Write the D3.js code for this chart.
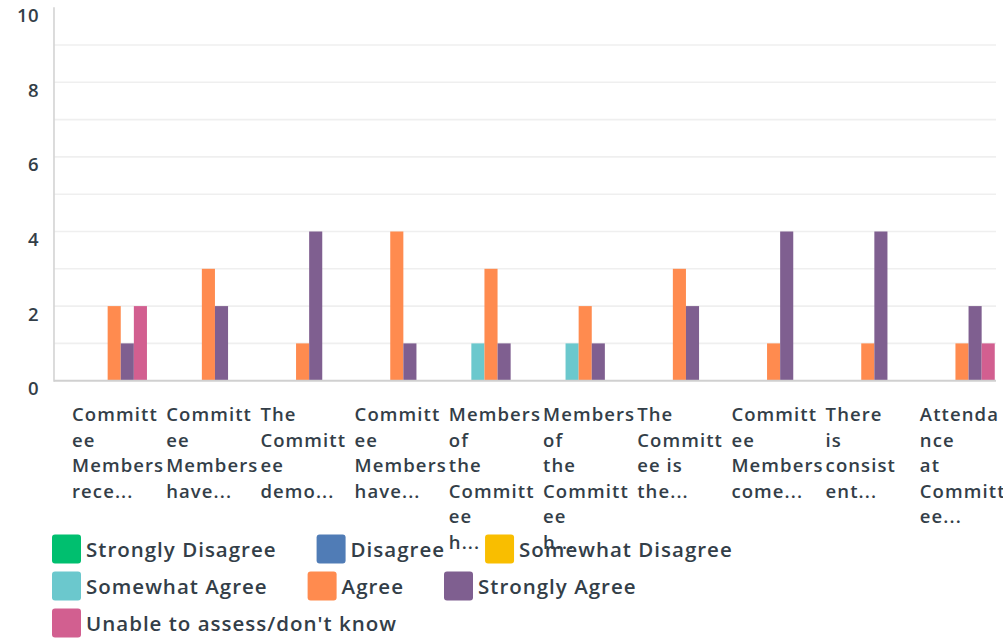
<!DOCTYPE html>
<html>
<head>
<meta charset="utf-8">
<script src="https://cdn.jsdelivr.net/npm/d3@7"></script>
<style>
  html, body { margin: 0; padding: 0; background: #fff; }
  svg { display: block; font-family: "Open Sans", sans-serif; }
</style>
</head>
<body>
<svg id="chart" width="1003" height="638"></svg>
<script>
// ---- data ----
const categories = [
  ["Committ", "ee", "Members", "rece..."],
  ["Committ", "ee", "Members", "have..."],
  ["The", "Committ", "ee", "demo..."],
  ["Committ", "ee", "Members", "have..."],
  ["Members", "of", "the", "Committ", "ee", "h..."],
  ["Members", "of", "the", "Committ", "ee", "h..."],
  ["The", "Committ", "ee is", "the..."],
  ["Committ", "ee", "Members", "come..."],
  ["There", "is", "consist", "ent..."],
  ["Attenda", "nce", "at", "Committ", "ee..."]
];
const seriesNames = ["Strongly Disagree", "Disagree", "Somewhat Disagree", "Somewhat Agree", "Agree", "Strongly Agree", "Unable to assess/don't know"];
const seriesColors = ["#00bf6f", "#507cb6", "#f9be00", "#6bc8cd", "#ff8b4f", "#7f5f90", "#d25f90"];
const stronglyDisagree = [0, 0, 0, 0, 0, 0, 0, 0, 0, 0];
const disagree         = [0, 0, 0, 0, 0, 0, 0, 0, 0, 0];
const somewhatDisagree = [0, 0, 0, 0, 0, 0, 0, 0, 0, 0];
const somewhatAgree    = [0, 0, 0, 0, 1, 1, 0, 0, 0, 0];
const agree            = [2, 3, 1, 4, 3, 2, 3, 1, 1, 1];
const stronglyAgree    = [1, 2, 4, 1, 1, 1, 2, 4, 4, 2];
const unable           = [2, 0, 0, 0, 0, 0, 0, 0, 0, 1];
const yTicks = [0, 2, 4, 6, 8, 10];
const yGrid = [1, 2, 3, 4, 5, 6, 7, 8, 9];

const seriesValues = [stronglyDisagree, disagree, somewhatDisagree, somewhatAgree, agree, stronglyAgree, unable];

// ---- layout ----
const svg = d3.select("#chart");
const plotLeft = 54, plotRight = 996, plotTop = 7.7, plotBottom = 380.7;
const textColor = "#333e48";

const x0 = d3.scaleBand().domain(d3.range(categories.length)).range([plotLeft, plotRight]).paddingInner(0).paddingOuter(0);
const x1 = d3.scaleBand().domain(d3.range(seriesNames.length)).range([0, x0.bandwidth()]).paddingInner(0).paddingOuter(0.095);
const y = d3.scaleLinear().domain([0, 10]).range([plotBottom, plotTop]);

// gridlines
svg.append("g").selectAll("line").data(yGrid).join("line")
  .attr("x1", plotLeft).attr("x2", plotRight)
  .attr("y1", d => y(d)).attr("y2", d => y(d))
  .attr("stroke", "#efefef").attr("stroke-width", 1.6);

// bars
const groups = svg.append("g").selectAll("g").data(categories).join("g")
  .attr("transform", (d, i) => `translate(${x0(i)},0)`);
groups.selectAll("rect")
  .data((d, i) => seriesValues.map((vals, s) => ({ s, v: vals[i] })).filter(e => e.v > 0))
  .join("rect")
  .attr("x", e => x1(e.s))
  .attr("width", x1.bandwidth())
  .attr("y", e => y(e.v))
  .attr("height", e => y(0) - y(e.v))
  .attr("fill", e => seriesColors[e.s]);

// axes lines
svg.append("line").attr("x1", plotLeft).attr("x2", plotLeft).attr("y1", plotTop - 0.5).attr("y2", plotBottom + 1)
  .attr("stroke", "#d3d3d3").attr("stroke-width", 1.6);
svg.append("line").attr("x1", plotLeft).attr("x2", plotRight).attr("y1", plotBottom).attr("y2", plotBottom)
  .attr("stroke", "#d0d0d0").attr("stroke-width", 2);

// y tick labels
const yAxis = d3.axisLeft(y).tickValues(yTicks).tickSize(0).tickPadding(0);
const yg = svg.append("g").attr("transform", `translate(${plotLeft - 15},8)`).call(yAxis);
yg.select(".domain").remove();
yg.selectAll("text")
  .attr("fill", textColor)
  .style("font-family", "'Open Sans', sans-serif")
  .style("font-size", "18.5px")
  .style("font-weight", 600)
  .style("letter-spacing", "0.4px");

// x labels
const xl = svg.append("g");
xl.selectAll("text").data(categories).join("text")
  .attr("x", (d, i) => x0(i) + 18)
  .attr("y", 421)
  .attr("fill", textColor)
  .style("font-size", "18.5px")
  .style("font-weight", 600)
  .style("letter-spacing", "1.1px")
  .each(function(lines) {
    const t = d3.select(this);
    lines.forEach((ln, k) => {
      t.append("tspan").attr("x", t.attr("x")).attr("dy", k === 0 ? 0 : 25.5).text(ln);
    });
  });

// legend (flow layout)
const legendLeft = 52, legendMax = 800, rowH = 37, sq = 29, gap = 40;
const lg = svg.append("g");
let cx = legendLeft, row = 0;
seriesNames.forEach((name, i) => {
  const item = lg.append("g");
  const txt = item.append("text")
    .attr("x", sq + 5).attr("y", 0)
    .attr("dominant-baseline", "central")
    .attr("fill", textColor)
    .style("font-size", "20.5px")
    .style("font-weight", 600)
    .style("letter-spacing", "1px")
    .text(name);
  const w = sq + 5 + txt.node().getComputedTextLength();
  if (cx + w > legendLeft + legendMax && cx > legendLeft) { cx = legendLeft; row++; }
  item.append("rect").attr("x", 0).attr("y", -sq / 2).attr("width", sq).attr("height", sq)
    .attr("rx", 3).attr("fill", seriesColors[i]);
  item.attr("transform", `translate(${cx},${549 + row * rowH})`);
  cx += w + gap;
});
</script>
</body>
</html>
